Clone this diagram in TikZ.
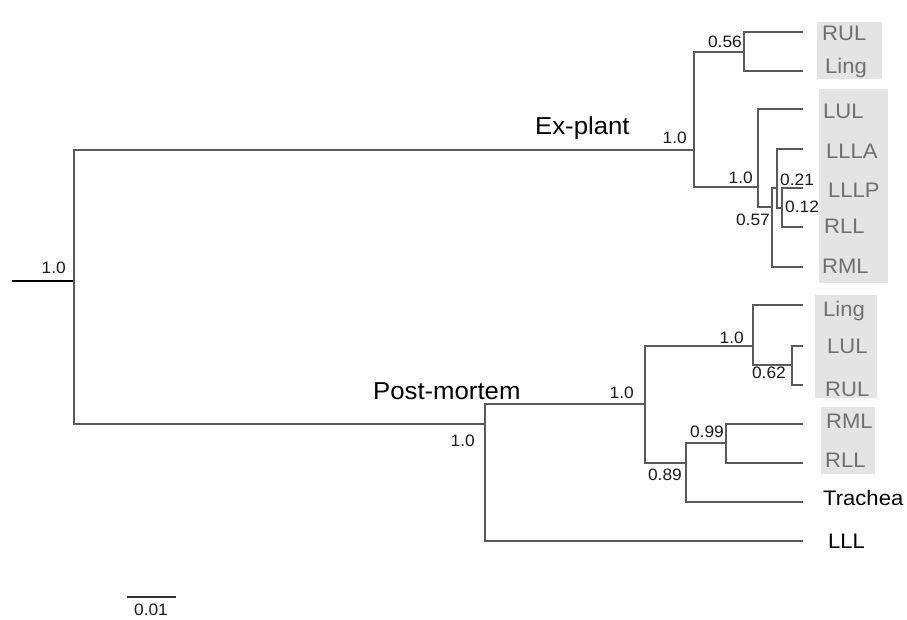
\documentclass[tikz,border=0pt]{standalone}
\usepackage{fontspec}
\setmainfont{Liberation Sans}[FakeStretch=1.05]
\definecolor{linec}{RGB}{90,90,90}
\definecolor{leafc}{RGB}{112,112,112}
\definecolor{boxc}{RGB}{228,228,228}
\definecolor{numc}{RGB}{25,25,25}
\begin{document}
\begin{tikzpicture}[x=1pt,y=-1pt,
  branch/.style={draw=linec, line width=1.1pt},
  numlab/.style={font=\fontsize{16.5}{18}\selectfont, text=numc, inner sep=0pt},
  leaflab/.style={font=\fontsize{21}{23}\selectfont, text=leafc, inner sep=0pt, anchor=base west},
  blacklab/.style={font=\fontsize{21}{23}\selectfont, text=black, inner sep=0pt, anchor=base west},
  grplab/.style={font=\fontsize{24.5}{26}\selectfont, text=black, inner sep=0pt, anchor=base west},
  shadebox/.style={fill=boxc, draw=none}]
\useasboundingbox (0,0) rectangle (907,619);
% grey boxes
\fill[shadebox] (817,22) rectangle (882,79);
\fill[shadebox] (819,89) rectangle (888,283);
\fill[shadebox] (815,295) rectangle (877,398);
\fill[shadebox] (821,407) rectangle (875,474);
% internal nodes
\coordinate (stub) at (12,281);
\coordinate (root) at (74,281);
\coordinate (ex) at (694,150);
\coordinate (n56) at (744,52);
\coordinate (n10a) at (758,187);
\coordinate (n57) at (772,207);
\coordinate (n21) at (777,188);
\coordinate (n12) at (782,208);
\coordinate (pm) at (485,424);
\coordinate (pm10) at (645,404);
\coordinate (q10) at (753,346);
\coordinate (n62) at (792,365);
\coordinate (n89) at (686,463);
\coordinate (n99) at (726,443);
% leaf tips
\coordinate (tRUL) at (803,32);
\coordinate (tLing) at (803,71);
\coordinate (tLUL) at (803,109);
\coordinate (tLLLA) at (803,149);
\coordinate (tLLLP) at (803,188);
\coordinate (tRLL) at (803,227);
\coordinate (tRML) at (803,267);
\coordinate (bLing) at (803,305);
\coordinate (bLUL) at (803,346);
\coordinate (bRUL) at (803,385);
\coordinate (bRML) at (803,424);
\coordinate (bRLL) at (803,463);
\coordinate (bTrachea) at (803,502);
\coordinate (bLLL) at (803,541);
% branches
\draw[draw=black, line width=1.5pt] (stub) -- (root);
\draw[branch] (root) |- (ex);
\draw[branch] (root) |- (pm);
\draw[branch] (ex) |- (n56);
\draw[branch] (ex) |- (n10a);
\draw[branch] (n56) |- (tRUL);
\draw[branch] (n56) |- (tLing);
\draw[branch] (n10a) |- (tLUL);
\draw[branch] (n10a) |- (n57);
\draw[branch] (n57) |- (n21);
\draw[branch] (n57) |- (tRML);
\draw[branch] (n21) |- (tLLLA);
\draw[branch] (n21) |- (n12);
\draw[branch] (n12) |- (tLLLP);
\draw[branch] (n12) |- (tRLL);
\draw[branch] (pm) |- (pm10);
\draw[branch] (pm) |- (bLLL);
\draw[branch] (pm10) |- (q10);
\draw[branch] (pm10) |- (n89);
\draw[branch] (q10) |- (bLing);
\draw[branch] (q10) |- (n62);
\draw[branch] (n62) |- (bLUL);
\draw[branch] (n62) |- (bRUL);
\draw[branch] (n89) |- (n99);
\draw[branch] (n89) |- (bTrachea);
\draw[branch] (n99) |- (bRML);
\draw[branch] (n99) |- (bRLL);
% support values
\node[numlab, anchor=base east] (sRoot) at (66,273) {1.0};
\node[numlab, anchor=base east] (sEx) at (687,143) {1.0};
\node[numlab, anchor=base east] (s56) at (742,47) {0.56};
\node[numlab, anchor=base east] (s10a) at (753,183) {1.0};
\node[numlab, anchor=base east] (s57) at (770,225) {0.57};
\node[numlab, anchor=base west] (s21) at (780,185) {0.21};
\node[numlab, anchor=base west] (s12) at (785,212) {0.12};
\node[numlab, anchor=base east] (sPm) at (475,446) {1.0};
\node[numlab, anchor=base east] (sPm10) at (634,398) {1.0};
\node[numlab, anchor=base east] (sQ10) at (744,343) {1.0};
\node[numlab, anchor=base east] (s62) at (786,378) {0.62};
\node[numlab, anchor=base east] (s89) at (682,480) {0.89};
\node[numlab, anchor=base east] (s99) at (724,437) {0.99};
% group labels
\node[grplab] (gEx) at (535,134) {Ex-plant};
\node[grplab] (gPm) at (373,399) {Post-mortem};
% leaf labels
\node[leaflab] (lRUL) at (822,40) {RUL};
\node[leaflab] (lLing) at (825,73) {Ling};
\node[leaflab] (lLUL) at (823,118) {LUL};
\node[leaflab] (lLLLA) at (826,158) {LLLA};
\node[leaflab] (lLLLP) at (828,197) {LLLP};
\node[leaflab] (lRLL) at (824,233) {RLL};
\node[leaflab] (lRML) at (822,273) {RML};
\node[leaflab] (mLing) at (823,316) {Ling};
\node[leaflab] (mLUL) at (827,353) {LUL};
\node[leaflab] (mRUL) at (825,396) {RUL};
\node[leaflab] (mRML) at (826,428) {RML};
\node[leaflab] (mRLL) at (825,467) {RLL};
\node[blacklab] (mTrachea) at (823,505) {Trachea};
\node[blacklab] (mLLL) at (828,548) {LLL};
% scale bar
\coordinate (sbA) at (127,597);
\coordinate (sbB) at (176,597);
\draw[branch, draw=black!80] (sbA) -- (sbB);
\node[numlab, anchor=base] (sbLab) at (151,615) {0.01};
\end{tikzpicture}
\end{document}
